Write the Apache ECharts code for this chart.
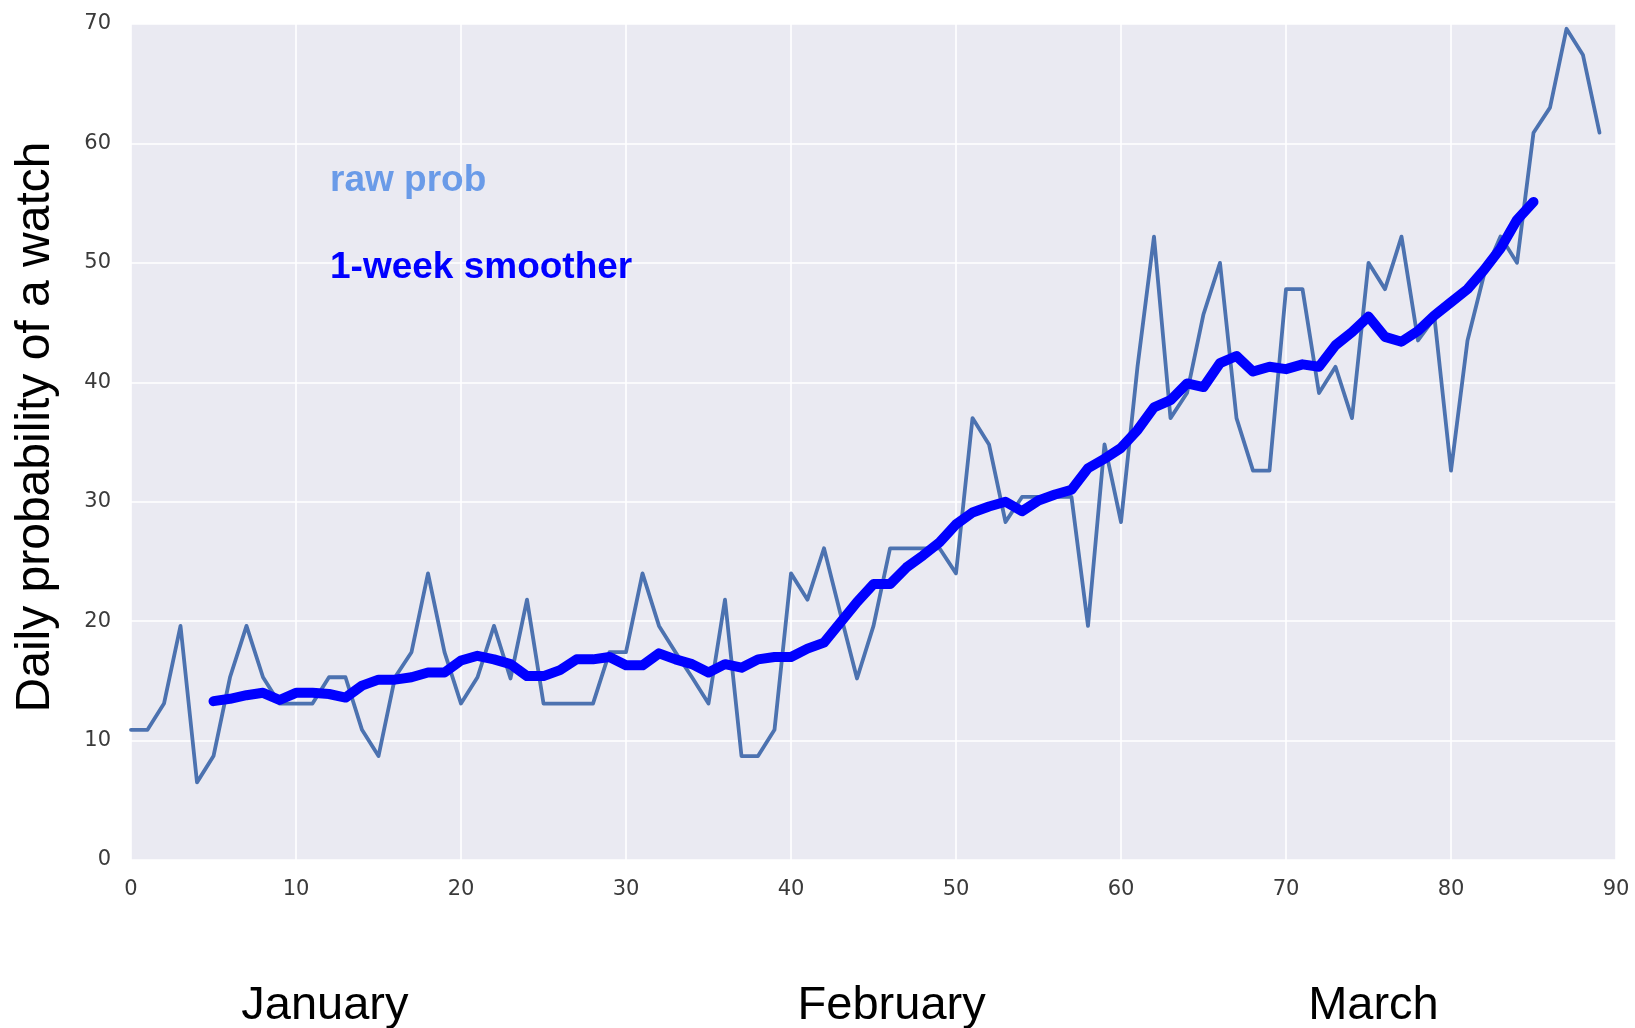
<!DOCTYPE html>
<html>
<head>
<meta charset="utf-8">
<script src="https://cdn.jsdelivr.net/npm/echarts@6/dist/echarts.min.js"></script>
<style>
  html, body { margin: 0; padding: 0; background: #ffffff; }
  #chart { width: 1635px; height: 1028px; }
</style>
</head>
<body>
<div id="chart"></div>
<script>
// ---- data ----
const rawProb = [
  10.9, 10.9, 13.1, 19.6, 6.5, 8.7, 15.3, 19.6, 15.3, 13.1,
  13.1, 13.1, 15.3, 15.3, 10.9, 8.7, 15.3, 17.4, 24.0, 17.4,
  13.1, 15.3, 19.6, 15.2, 21.8, 13.1, 13.1, 13.1, 13.1, 17.4,
  17.4, 24.0, 19.6, 17.4, 15.3, 13.1, 21.8, 8.7, 8.7, 10.9,
  24.0, 21.8, 26.1, 20.6, 15.2, 19.6, 26.1, 26.1, 26.1, 26.1,
  24.0, 37.0, 34.8, 28.3, 30.4, 30.4, 30.4, 30.4, 19.6, 34.8,
  28.3, 41.3, 52.2, 37.0, 39.1, 45.7, 50.0, 37.0, 32.6, 32.6,
  47.8, 47.8, 39.1, 41.3, 37.0, 50.0, 47.8, 52.2, 43.5, 45.4,
  32.6, 43.5, 49.0, 52.2, 50.0, 60.9, 63.0, 69.6, 67.4, 60.9
];
const smoothStartDay = 5;
const smoother = [
  13.3, 13.5, 13.8, 14.0, 13.4, 14.0, 14.0, 13.9, 13.6, 14.6,
  15.1, 15.1, 15.3, 15.7, 15.7, 16.7, 17.1, 16.8, 16.4, 15.4,
  15.4, 15.9, 16.8, 16.8, 17.0, 16.3, 16.3, 17.3, 16.8, 16.4,
  15.7, 16.4, 16.1, 16.8, 17.0, 17.0, 17.7, 18.2, 19.9, 21.6,
  23.1, 23.1, 24.5, 25.5, 26.6, 28.1, 29.1, 29.6, 30.0, 29.2,
  30.1, 30.6, 31.0, 32.8, 33.6, 34.5, 36.0, 37.9, 38.5, 39.9,
  39.6, 41.6, 42.2, 40.9, 41.3, 41.1, 41.5, 41.3, 43.1, 44.2,
  45.5, 43.8, 43.4, 44.3, 45.6, 46.7, 47.8, 49.4, 51.2, 53.6,
  55.1
];
const seriesNames = ['raw prob', '1-week smoother'];
const yTitle = 'Daily probability of a watch';
const months = ['January', 'February', 'March'];
const monthCenters = [11.75, 46.1, 75.3]; // in day units
const xMin = 0, xMax = 90, xStep = 10;
const yMin = 0, yMax = 70, yStep = 10;

// ---- build ----
const rawData = rawProb.map((v, i) => [i, v]);
const smoothData = smoother.map((v, i) => [i + smoothStartDay, v]);

const chart = echarts.init(document.getElementById('chart'), null, { renderer: 'canvas' });

const gridLeft = 131, gridRight = 19, gridTop = 24, gridBottom = 168;
const plotW = 1635 - gridLeft - gridRight;

const monthGraphics = months.map((m, i) => ({
  type: 'text',
  x: gridLeft + (monthCenters[i] - xMin) / (xMax - xMin) * plotW,
  y: 1006,
  style: {
    text: m,
    font: '47px "Liberation Sans", Arial, sans-serif',
    fill: '#000000',
    textAlign: 'center',
    textVerticalAlign: 'middle'
  }
}));

chart.setOption({
  animation: false,
  backgroundColor: '#ffffff',
  grid: {
    left: gridLeft, right: gridRight, top: gridTop, bottom: gridBottom,
    show: true, backgroundColor: '#eaeaf2', borderWidth: 0
  },
  xAxis: {
    type: 'value', min: xMin, max: xMax, interval: xStep,
    axisLine: { show: false }, axisTick: { show: false },
    axisLabel: { color: '#3a3a3a', fontSize: 21, fontFamily: '"DejaVu Sans", sans-serif', margin: 19 },
    splitLine: { show: true, lineStyle: { color: '#ffffff', width: 1.6 } }
  },
  yAxis: {
    type: 'value', min: yMin, max: yMax, interval: yStep,
    axisLine: { show: false }, axisTick: { show: false },
    axisLabel: { color: '#3a3a3a', fontSize: 21, fontFamily: '"DejaVu Sans", sans-serif', margin: 20 },
    splitLine: { show: true, lineStyle: { color: '#ffffff', width: 1.6 } }
  },
  series: [
    {
      name: seriesNames[0], type: 'line', data: rawData,
      showSymbol: false, symbol: 'none',
      lineStyle: { color: '#4c72b0', width: 3.8, join: 'round', cap: 'round' },
      z: 2
    },
    {
      name: seriesNames[1], type: 'line', data: smoothData,
      showSymbol: false, symbol: 'none',
      lineStyle: { color: '#0000ff', width: 10, join: 'round', cap: 'round' },
      z: 3
    }
  ],
  graphic: [
    {
      type: 'text', x: 330, y: 199,
      style: {
        text: seriesNames[0],
        font: 'bold 37px "Liberation Sans", Arial, sans-serif',
        fill: '#6a9be8', textAlign: 'left', textVerticalAlign: 'bottom'
      },
      z: 10
    },
    {
      type: 'text', x: 330, y: 286,
      style: {
        text: seriesNames[1],
        font: 'bold 37px "Liberation Sans", Arial, sans-serif',
        fill: '#0000ff', textAlign: 'left', textVerticalAlign: 'bottom'
      },
      z: 10
    },
    {
      type: 'text', x: 36, y: 427, rotation: Math.PI / 2,
      style: {
        text: yTitle,
        font: '48px "Liberation Sans", Arial, sans-serif',
        fill: '#000000', textAlign: 'center', textVerticalAlign: 'middle'
      }
    }
  ].concat(monthGraphics)
});
</script>
</body>
</html>
